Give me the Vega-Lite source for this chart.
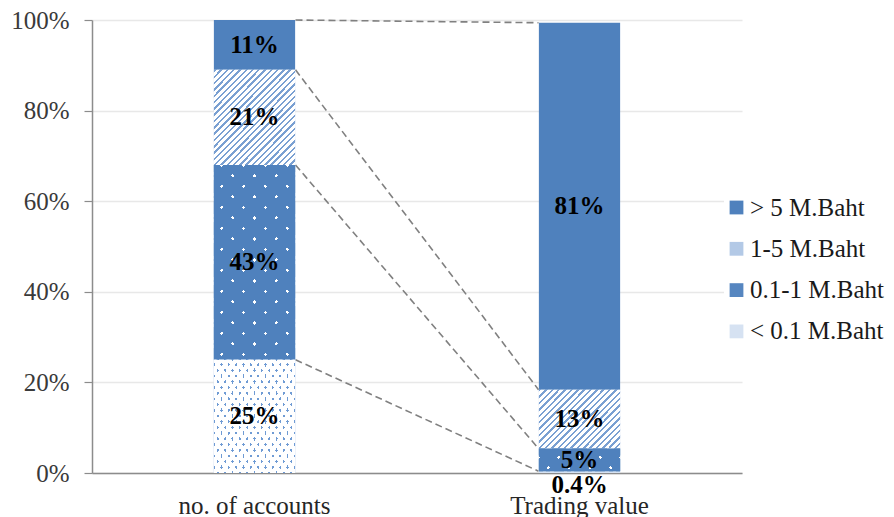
{
  "$schema": "https://vega.github.io/schema/vega-lite/v6.json",
  "width": 650,
  "height": 453,
  "autosize": {"type": "none"},
  "padding": {"left": 92, "top": 20, "right": 152, "bottom": 44},
  "config": {"view": {"stroke": null}, "font": "Times New Roman, Liberation Serif, DejaVu Serif, serif"},
  "datasets": {
    "segments": [
      {"category": "no. of accounts", "bin": "< 0.1 M.Baht", "pct": 25},
      {"category": "no. of accounts", "bin": "0.1-1 M.Baht", "pct": 43},
      {"category": "no. of accounts", "bin": "1-5 M.Baht", "pct": 21},
      {"category": "no. of accounts", "bin": "> 5 M.Baht", "pct": 11},
      {"category": "Trading value", "bin": "< 0.1 M.Baht", "pct": 0.4},
      {"category": "Trading value", "bin": "0.1-1 M.Baht", "pct": 5},
      {"category": "Trading value", "bin": "1-5 M.Baht", "pct": 13},
      {"category": "Trading value", "bin": "> 5 M.Baht", "pct": 81}
    ],
    "links": [
      {"from": 100, "to": 99.4},
      {"from": 89, "to": 18.4},
      {"from": 68, "to": 5.4},
      {"from": 25, "to": 0.4}
    ]
  },
  "layer": [
    {
      "data": {"name": "links"},
      "mark": {"type": "rule", "color": "#808080", "strokeWidth": 1.6, "strokeDash": [7, 4], "xOffset": 41, "x2Offset": -41},
      "encoding": {
        "x": {"datum": "no. of accounts", "type": "nominal",
          "scale": {"domain": ["no. of accounts", "Trading value"], "paddingInner": 0, "paddingOuter": 0},
          "axis": {"title": null, "ticks": false, "labelFontSize": 25, "labelPadding": 20, "labelColor": "#262626", "domainColor": "#8c8c8c", "domainWidth": 1.5, "labelAngle": 0, "labelFont": "Times New Roman, Liberation Serif, DejaVu Serif, serif"}},
        "x2": {"datum": "Trading value"},
        "y": {"field": "from", "type": "quantitative",
          "scale": {"domain": [0, 100]},
          "axis": {"values": [0, 20, 40, 60, 80, 100], "labelExpr": "datum.value + '%'", "title": null, "grid": true, "gridColor": "#e8e8e8", "gridWidth": 1.3, "domainColor": "#8c8c8c", "domainWidth": 1.5, "tickColor": "#8c8c8c", "tickSize": 8, "tickWidth": 1.2, "labelFontSize": 25, "labelColor": "#3a3a3a", "labelPadding": 15, "labelFont": "Times New Roman, Liberation Serif, DejaVu Serif, serif"}},
        "y2": {"field": "to"}
      }
    },
    {
      "data": {"name": "segments"},
      "transform": [
        {"calculate": "indexof(['< 0.1 M.Baht','0.1-1 M.Baht','1-5 M.Baht','> 5 M.Baht'], datum.bin)", "as": "ord"},
        {"stack": "pct", "groupby": ["category"], "sort": [{"field": "ord"}], "as": ["y0", "y1"]},
        {"calculate": "(datum.y0 + datum.y1) / 2", "as": "mid"},
        {"calculate": "datum.pct + '%'", "as": "label"}
      ],
      "encoding": {
        "x": {"field": "category", "type": "nominal"},
        "y": {"field": "y0", "type": "quantitative"},
        "y2": {"field": "y1"}
      },
      "layer": [
        {
          "mark": {"type": "bar", "width": {"band": 0.25}},
          "encoding": {
            "color": {"field": "bin", "type": "nominal",
              "scale": {"domain": ["> 5 M.Baht", "1-5 M.Baht", "0.1-1 M.Baht", "< 0.1 M.Baht"], "range": ["#4f81bd", "#b3c9e6", "#5686c0", "#d6e2f2"]},
              "legend": {"orient": "none", "legendX": 632, "legendY": 175, "title": null, "padding": 0, "fillColor": "white", "symbolType": "square", "symbolSize": 190, "symbolStrokeWidth": 0, "symbolOpacity": 1, "labelFontSize": 25, "labelFont": "Times New Roman, Liberation Serif, DejaVu Serif, serif", "labelColor": "#1a1a1a", "labelOffset": 1, "rowPadding": 15.3, "labelLimit": 200,
                "labelExpr": "(datum.label == '1-5 M.Baht' || datum.label == '< 0.1 M.Baht' ? '\u00a0' : '') + datum.label"}}
          }
        },
        {
          "transform": [{"filter": "datum.bin == '1-5 M.Baht' && datum.category == 'no. of accounts'"}],
          "mark": {"type": "bar", "width": {"band": 0.25},
            "fill": {"gradient": "linear", "x1": 0, "y1": 0, "x2": 0.921, "y2": 1.068, "stops": [
              {"offset": 0, "color": "#7aa0d2"}, {"offset": 0.0136, "color": "#7aa0d2"}, {"offset": 0.0136, "color": "#ffffff"}, {"offset": 0.0357, "color": "#ffffff"},
              {"offset": 0.0357, "color": "#7aa0d2"}, {"offset": 0.0493, "color": "#7aa0d2"}, {"offset": 0.0493, "color": "#ffffff"}, {"offset": 0.0714, "color": "#ffffff"},
              {"offset": 0.0714, "color": "#7aa0d2"}, {"offset": 0.085, "color": "#7aa0d2"}, {"offset": 0.085, "color": "#ffffff"}, {"offset": 0.1071, "color": "#ffffff"},
              {"offset": 0.1071, "color": "#7aa0d2"}, {"offset": 0.1207, "color": "#7aa0d2"}, {"offset": 0.1207, "color": "#ffffff"}, {"offset": 0.1429, "color": "#ffffff"},
              {"offset": 0.1429, "color": "#7aa0d2"}, {"offset": 0.1565, "color": "#7aa0d2"}, {"offset": 0.1565, "color": "#ffffff"}, {"offset": 0.1786, "color": "#ffffff"},
              {"offset": 0.1786, "color": "#7aa0d2"}, {"offset": 0.1922, "color": "#7aa0d2"}, {"offset": 0.1922, "color": "#ffffff"}, {"offset": 0.2143, "color": "#ffffff"},
              {"offset": 0.2143, "color": "#7aa0d2"}, {"offset": 0.2279, "color": "#7aa0d2"}, {"offset": 0.2279, "color": "#ffffff"}, {"offset": 0.25, "color": "#ffffff"},
              {"offset": 0.25, "color": "#7aa0d2"}, {"offset": 0.2636, "color": "#7aa0d2"}, {"offset": 0.2636, "color": "#ffffff"}, {"offset": 0.2857, "color": "#ffffff"},
              {"offset": 0.2857, "color": "#7aa0d2"}, {"offset": 0.2993, "color": "#7aa0d2"}, {"offset": 0.2993, "color": "#ffffff"}, {"offset": 0.3214, "color": "#ffffff"},
              {"offset": 0.3214, "color": "#7aa0d2"}, {"offset": 0.335, "color": "#7aa0d2"}, {"offset": 0.335, "color": "#ffffff"}, {"offset": 0.3571, "color": "#ffffff"},
              {"offset": 0.3571, "color": "#7aa0d2"}, {"offset": 0.3707, "color": "#7aa0d2"}, {"offset": 0.3707, "color": "#ffffff"}, {"offset": 0.3929, "color": "#ffffff"},
              {"offset": 0.3929, "color": "#7aa0d2"}, {"offset": 0.4065, "color": "#7aa0d2"}, {"offset": 0.4065, "color": "#ffffff"}, {"offset": 0.4286, "color": "#ffffff"},
              {"offset": 0.4286, "color": "#7aa0d2"}, {"offset": 0.4422, "color": "#7aa0d2"}, {"offset": 0.4422, "color": "#ffffff"}, {"offset": 0.4643, "color": "#ffffff"},
              {"offset": 0.4643, "color": "#7aa0d2"}, {"offset": 0.4779, "color": "#7aa0d2"}, {"offset": 0.4779, "color": "#ffffff"}, {"offset": 0.5, "color": "#ffffff"},
              {"offset": 0.5, "color": "#7aa0d2"}, {"offset": 0.5136, "color": "#7aa0d2"}, {"offset": 0.5136, "color": "#ffffff"}, {"offset": 0.5357, "color": "#ffffff"},
              {"offset": 0.5357, "color": "#7aa0d2"}, {"offset": 0.5493, "color": "#7aa0d2"}, {"offset": 0.5493, "color": "#ffffff"}, {"offset": 0.5714, "color": "#ffffff"},
              {"offset": 0.5714, "color": "#7aa0d2"}, {"offset": 0.585, "color": "#7aa0d2"}, {"offset": 0.585, "color": "#ffffff"}, {"offset": 0.6071, "color": "#ffffff"},
              {"offset": 0.6071, "color": "#7aa0d2"}, {"offset": 0.6207, "color": "#7aa0d2"}, {"offset": 0.6207, "color": "#ffffff"}, {"offset": 0.6429, "color": "#ffffff"},
              {"offset": 0.6429, "color": "#7aa0d2"}, {"offset": 0.6565, "color": "#7aa0d2"}, {"offset": 0.6565, "color": "#ffffff"}, {"offset": 0.6786, "color": "#ffffff"},
              {"offset": 0.6786, "color": "#7aa0d2"}, {"offset": 0.6922, "color": "#7aa0d2"}, {"offset": 0.6922, "color": "#ffffff"}, {"offset": 0.7143, "color": "#ffffff"},
              {"offset": 0.7143, "color": "#7aa0d2"}, {"offset": 0.7279, "color": "#7aa0d2"}, {"offset": 0.7279, "color": "#ffffff"}, {"offset": 0.75, "color": "#ffffff"},
              {"offset": 0.75, "color": "#7aa0d2"}, {"offset": 0.7636, "color": "#7aa0d2"}, {"offset": 0.7636, "color": "#ffffff"}, {"offset": 0.7857, "color": "#ffffff"},
              {"offset": 0.7857, "color": "#7aa0d2"}, {"offset": 0.7993, "color": "#7aa0d2"}, {"offset": 0.7993, "color": "#ffffff"}, {"offset": 0.8214, "color": "#ffffff"},
              {"offset": 0.8214, "color": "#7aa0d2"}, {"offset": 0.835, "color": "#7aa0d2"}, {"offset": 0.835, "color": "#ffffff"}, {"offset": 0.8571, "color": "#ffffff"},
              {"offset": 0.8571, "color": "#7aa0d2"}, {"offset": 0.8707, "color": "#7aa0d2"}, {"offset": 0.8707, "color": "#ffffff"}, {"offset": 0.8929, "color": "#ffffff"},
              {"offset": 0.8929, "color": "#7aa0d2"}, {"offset": 0.9065, "color": "#7aa0d2"}, {"offset": 0.9065, "color": "#ffffff"}, {"offset": 0.9286, "color": "#ffffff"},
              {"offset": 0.9286, "color": "#7aa0d2"}, {"offset": 0.9422, "color": "#7aa0d2"}, {"offset": 0.9422, "color": "#ffffff"}, {"offset": 0.9643, "color": "#ffffff"},
              {"offset": 0.9643, "color": "#7aa0d2"}, {"offset": 0.9779, "color": "#7aa0d2"}, {"offset": 0.9779, "color": "#ffffff"}, {"offset": 1, "color": "#ffffff"}
            ]}}
        },
        {
          "transform": [{"filter": "datum.bin == '1-5 M.Baht' && datum.category == 'Trading value'"}],
          "mark": {"type": "bar", "width": {"band": 0.25},
            "fill": {"gradient": "linear", "x1": 0, "y1": 0, "x2": 1.134, "y2": 0.814, "stops": [
              {"offset": 0, "color": "#7aa0d2"}, {"offset": 0.0173, "color": "#7aa0d2"}, {"offset": 0.0173, "color": "#ffffff"}, {"offset": 0.0455, "color": "#ffffff"},
              {"offset": 0.0455, "color": "#7aa0d2"}, {"offset": 0.0628, "color": "#7aa0d2"}, {"offset": 0.0628, "color": "#ffffff"}, {"offset": 0.0909, "color": "#ffffff"},
              {"offset": 0.0909, "color": "#7aa0d2"}, {"offset": 0.1082, "color": "#7aa0d2"}, {"offset": 0.1082, "color": "#ffffff"}, {"offset": 0.1364, "color": "#ffffff"},
              {"offset": 0.1364, "color": "#7aa0d2"}, {"offset": 0.1537, "color": "#7aa0d2"}, {"offset": 0.1537, "color": "#ffffff"}, {"offset": 0.1818, "color": "#ffffff"},
              {"offset": 0.1818, "color": "#7aa0d2"}, {"offset": 0.1991, "color": "#7aa0d2"}, {"offset": 0.1991, "color": "#ffffff"}, {"offset": 0.2273, "color": "#ffffff"},
              {"offset": 0.2273, "color": "#7aa0d2"}, {"offset": 0.2446, "color": "#7aa0d2"}, {"offset": 0.2446, "color": "#ffffff"}, {"offset": 0.2727, "color": "#ffffff"},
              {"offset": 0.2727, "color": "#7aa0d2"}, {"offset": 0.29, "color": "#7aa0d2"}, {"offset": 0.29, "color": "#ffffff"}, {"offset": 0.3182, "color": "#ffffff"},
              {"offset": 0.3182, "color": "#7aa0d2"}, {"offset": 0.3355, "color": "#7aa0d2"}, {"offset": 0.3355, "color": "#ffffff"}, {"offset": 0.3636, "color": "#ffffff"},
              {"offset": 0.3636, "color": "#7aa0d2"}, {"offset": 0.3809, "color": "#7aa0d2"}, {"offset": 0.3809, "color": "#ffffff"}, {"offset": 0.4091, "color": "#ffffff"},
              {"offset": 0.4091, "color": "#7aa0d2"}, {"offset": 0.4264, "color": "#7aa0d2"}, {"offset": 0.4264, "color": "#ffffff"}, {"offset": 0.4545, "color": "#ffffff"},
              {"offset": 0.4545, "color": "#7aa0d2"}, {"offset": 0.4718, "color": "#7aa0d2"}, {"offset": 0.4718, "color": "#ffffff"}, {"offset": 0.5, "color": "#ffffff"},
              {"offset": 0.5, "color": "#7aa0d2"}, {"offset": 0.5173, "color": "#7aa0d2"}, {"offset": 0.5173, "color": "#ffffff"}, {"offset": 0.5455, "color": "#ffffff"},
              {"offset": 0.5455, "color": "#7aa0d2"}, {"offset": 0.5627, "color": "#7aa0d2"}, {"offset": 0.5627, "color": "#ffffff"}, {"offset": 0.5909, "color": "#ffffff"},
              {"offset": 0.5909, "color": "#7aa0d2"}, {"offset": 0.6082, "color": "#7aa0d2"}, {"offset": 0.6082, "color": "#ffffff"}, {"offset": 0.6364, "color": "#ffffff"},
              {"offset": 0.6364, "color": "#7aa0d2"}, {"offset": 0.6537, "color": "#7aa0d2"}, {"offset": 0.6537, "color": "#ffffff"}, {"offset": 0.6818, "color": "#ffffff"},
              {"offset": 0.6818, "color": "#7aa0d2"}, {"offset": 0.6991, "color": "#7aa0d2"}, {"offset": 0.6991, "color": "#ffffff"}, {"offset": 0.7273, "color": "#ffffff"},
              {"offset": 0.7273, "color": "#7aa0d2"}, {"offset": 0.7446, "color": "#7aa0d2"}, {"offset": 0.7446, "color": "#ffffff"}, {"offset": 0.7727, "color": "#ffffff"},
              {"offset": 0.7727, "color": "#7aa0d2"}, {"offset": 0.79, "color": "#7aa0d2"}, {"offset": 0.79, "color": "#ffffff"}, {"offset": 0.8182, "color": "#ffffff"},
              {"offset": 0.8182, "color": "#7aa0d2"}, {"offset": 0.8355, "color": "#7aa0d2"}, {"offset": 0.8355, "color": "#ffffff"}, {"offset": 0.8636, "color": "#ffffff"},
              {"offset": 0.8636, "color": "#7aa0d2"}, {"offset": 0.8809, "color": "#7aa0d2"}, {"offset": 0.8809, "color": "#ffffff"}, {"offset": 0.9091, "color": "#ffffff"},
              {"offset": 0.9091, "color": "#7aa0d2"}, {"offset": 0.9264, "color": "#7aa0d2"}, {"offset": 0.9264, "color": "#ffffff"}, {"offset": 0.9545, "color": "#ffffff"},
              {"offset": 0.9545, "color": "#7aa0d2"}, {"offset": 0.9718, "color": "#7aa0d2"}, {"offset": 0.9718, "color": "#ffffff"}, {"offset": 1, "color": "#ffffff"}
            ]}}
        },
        {
          "transform": [{"filter": "datum.bin == '0.1-1 M.Baht'"}],
          "mark": {"type": "bar", "width": {"band": 0.25}, "fill": "#ffffff"}
        },
        {
          "transform": [{"filter": "datum.bin == '0.1-1 M.Baht' && datum.category == 'no. of accounts'"}],
          "mark": {"type": "bar", "width": {"band": 0.25},
            "fill": {"gradient": "linear", "x1": 0, "y1": 0, "x2": 0.4851, "y2": 1.2069, "stops": [
              {"offset": 0, "color": "#4f81bd"},
              {"offset": 0.0231, "color": "#4f81bd"}, {"offset": 0.0231, "color": "rgba(79,129,189,0)"}, {"offset": 0.0354, "color": "rgba(79,129,189,0)"}, {"offset": 0.0354, "color": "#4f81bd"},
              {"offset": 0.1, "color": "#4f81bd"}, {"offset": 0.1, "color": "rgba(79,129,189,0)"}, {"offset": 0.1123, "color": "rgba(79,129,189,0)"}, {"offset": 0.1123, "color": "#4f81bd"},
              {"offset": 0.1769, "color": "#4f81bd"}, {"offset": 0.1769, "color": "rgba(79,129,189,0)"}, {"offset": 0.1892, "color": "rgba(79,129,189,0)"}, {"offset": 0.1892, "color": "#4f81bd"},
              {"offset": 0.2538, "color": "#4f81bd"}, {"offset": 0.2538, "color": "rgba(79,129,189,0)"}, {"offset": 0.2661, "color": "rgba(79,129,189,0)"}, {"offset": 0.2661, "color": "#4f81bd"},
              {"offset": 0.3308, "color": "#4f81bd"}, {"offset": 0.3308, "color": "rgba(79,129,189,0)"}, {"offset": 0.3431, "color": "rgba(79,129,189,0)"}, {"offset": 0.3431, "color": "#4f81bd"},
              {"offset": 0.4077, "color": "#4f81bd"}, {"offset": 0.4077, "color": "rgba(79,129,189,0)"}, {"offset": 0.42, "color": "rgba(79,129,189,0)"}, {"offset": 0.42, "color": "#4f81bd"},
              {"offset": 0.4846, "color": "#4f81bd"}, {"offset": 0.4846, "color": "rgba(79,129,189,0)"}, {"offset": 0.4969, "color": "rgba(79,129,189,0)"}, {"offset": 0.4969, "color": "#4f81bd"},
              {"offset": 0.5615, "color": "#4f81bd"}, {"offset": 0.5615, "color": "rgba(79,129,189,0)"}, {"offset": 0.5738, "color": "rgba(79,129,189,0)"}, {"offset": 0.5738, "color": "#4f81bd"},
              {"offset": 0.6385, "color": "#4f81bd"}, {"offset": 0.6385, "color": "rgba(79,129,189,0)"}, {"offset": 0.6508, "color": "rgba(79,129,189,0)"}, {"offset": 0.6508, "color": "#4f81bd"},
              {"offset": 0.7154, "color": "#4f81bd"}, {"offset": 0.7154, "color": "rgba(79,129,189,0)"}, {"offset": 0.7277, "color": "rgba(79,129,189,0)"}, {"offset": 0.7277, "color": "#4f81bd"},
              {"offset": 0.7923, "color": "#4f81bd"}, {"offset": 0.7923, "color": "rgba(79,129,189,0)"}, {"offset": 0.8046, "color": "rgba(79,129,189,0)"}, {"offset": 0.8046, "color": "#4f81bd"},
              {"offset": 0.8692, "color": "#4f81bd"}, {"offset": 0.8692, "color": "rgba(79,129,189,0)"}, {"offset": 0.8815, "color": "rgba(79,129,189,0)"}, {"offset": 0.8815, "color": "#4f81bd"},
              {"offset": 0.9462, "color": "#4f81bd"}, {"offset": 0.9462, "color": "rgba(79,129,189,0)"}, {"offset": 0.9585, "color": "rgba(79,129,189,0)"}, {"offset": 0.9585, "color": "#4f81bd"},
              {"offset": 1, "color": "#4f81bd"}
            ]}}
        },
        {
          "transform": [{"filter": "datum.bin == '0.1-1 M.Baht' && datum.category == 'no. of accounts'"}],
          "mark": {"type": "bar", "width": {"band": 0.25},
            "fill": {"gradient": "linear", "x1": 1, "y1": 0, "x2": 0.5149, "y2": 1.2069, "stops": [
              {"offset": 0, "color": "#4f81bd"},
              {"offset": 0.0231, "color": "#4f81bd"}, {"offset": 0.0231, "color": "rgba(79,129,189,0)"}, {"offset": 0.0354, "color": "rgba(79,129,189,0)"}, {"offset": 0.0354, "color": "#4f81bd"},
              {"offset": 0.1, "color": "#4f81bd"}, {"offset": 0.1, "color": "rgba(79,129,189,0)"}, {"offset": 0.1123, "color": "rgba(79,129,189,0)"}, {"offset": 0.1123, "color": "#4f81bd"},
              {"offset": 0.1769, "color": "#4f81bd"}, {"offset": 0.1769, "color": "rgba(79,129,189,0)"}, {"offset": 0.1892, "color": "rgba(79,129,189,0)"}, {"offset": 0.1892, "color": "#4f81bd"},
              {"offset": 0.2538, "color": "#4f81bd"}, {"offset": 0.2538, "color": "rgba(79,129,189,0)"}, {"offset": 0.2661, "color": "rgba(79,129,189,0)"}, {"offset": 0.2661, "color": "#4f81bd"},
              {"offset": 0.3308, "color": "#4f81bd"}, {"offset": 0.3308, "color": "rgba(79,129,189,0)"}, {"offset": 0.3431, "color": "rgba(79,129,189,0)"}, {"offset": 0.3431, "color": "#4f81bd"},
              {"offset": 0.4077, "color": "#4f81bd"}, {"offset": 0.4077, "color": "rgba(79,129,189,0)"}, {"offset": 0.42, "color": "rgba(79,129,189,0)"}, {"offset": 0.42, "color": "#4f81bd"},
              {"offset": 0.4846, "color": "#4f81bd"}, {"offset": 0.4846, "color": "rgba(79,129,189,0)"}, {"offset": 0.4969, "color": "rgba(79,129,189,0)"}, {"offset": 0.4969, "color": "#4f81bd"},
              {"offset": 0.5615, "color": "#4f81bd"}, {"offset": 0.5615, "color": "rgba(79,129,189,0)"}, {"offset": 0.5738, "color": "rgba(79,129,189,0)"}, {"offset": 0.5738, "color": "#4f81bd"},
              {"offset": 0.6385, "color": "#4f81bd"}, {"offset": 0.6385, "color": "rgba(79,129,189,0)"}, {"offset": 0.6508, "color": "rgba(79,129,189,0)"}, {"offset": 0.6508, "color": "#4f81bd"},
              {"offset": 0.7154, "color": "#4f81bd"}, {"offset": 0.7154, "color": "rgba(79,129,189,0)"}, {"offset": 0.7277, "color": "rgba(79,129,189,0)"}, {"offset": 0.7277, "color": "#4f81bd"},
              {"offset": 0.7923, "color": "#4f81bd"}, {"offset": 0.7923, "color": "rgba(79,129,189,0)"}, {"offset": 0.8046, "color": "rgba(79,129,189,0)"}, {"offset": 0.8046, "color": "#4f81bd"},
              {"offset": 0.8692, "color": "#4f81bd"}, {"offset": 0.8692, "color": "rgba(79,129,189,0)"}, {"offset": 0.8815, "color": "rgba(79,129,189,0)"}, {"offset": 0.8815, "color": "#4f81bd"},
              {"offset": 0.9462, "color": "#4f81bd"}, {"offset": 0.9462, "color": "rgba(79,129,189,0)"}, {"offset": 0.9585, "color": "rgba(79,129,189,0)"}, {"offset": 0.9585, "color": "#4f81bd"},
              {"offset": 1, "color": "#4f81bd"}
            ]}}
        },
        {
          "transform": [{"filter": "datum.bin == '0.1-1 M.Baht' && datum.category == 'Trading value'"}],
          "mark": {"type": "bar", "width": {"band": 0.25},
            "fill": {"gradient": "linear", "x1": 0, "y1": 0, "x2": 1.1853, "y2": 0.3262, "stops": [
              {"offset": 0, "color": "#4f81bd"},
              {"offset": 0.06, "color": "#4f81bd"}, {"offset": 0.06, "color": "rgba(79,129,189,0)"}, {"offset": 0.092, "color": "rgba(79,129,189,0)"}, {"offset": 0.092, "color": "#4f81bd"},
              {"offset": 0.26, "color": "#4f81bd"}, {"offset": 0.26, "color": "rgba(79,129,189,0)"}, {"offset": 0.292, "color": "rgba(79,129,189,0)"}, {"offset": 0.292, "color": "#4f81bd"},
              {"offset": 0.46, "color": "#4f81bd"}, {"offset": 0.46, "color": "rgba(79,129,189,0)"}, {"offset": 0.492, "color": "rgba(79,129,189,0)"}, {"offset": 0.492, "color": "#4f81bd"},
              {"offset": 0.66, "color": "#4f81bd"}, {"offset": 0.66, "color": "rgba(79,129,189,0)"}, {"offset": 0.692, "color": "rgba(79,129,189,0)"}, {"offset": 0.692, "color": "#4f81bd"},
              {"offset": 0.86, "color": "#4f81bd"}, {"offset": 0.86, "color": "rgba(79,129,189,0)"}, {"offset": 0.892, "color": "rgba(79,129,189,0)"}, {"offset": 0.892, "color": "#4f81bd"},
              {"offset": 1, "color": "#4f81bd"}
            ]}}
        },
        {
          "transform": [{"filter": "datum.bin == '0.1-1 M.Baht' && datum.category == 'Trading value'"}],
          "mark": {"type": "bar", "width": {"band": 0.25},
            "fill": {"gradient": "linear", "x1": 1, "y1": 0, "x2": -0.1853, "y2": 0.3262, "stops": [
              {"offset": 0, "color": "#4f81bd"},
              {"offset": 0.06, "color": "#4f81bd"}, {"offset": 0.06, "color": "rgba(79,129,189,0)"}, {"offset": 0.092, "color": "rgba(79,129,189,0)"}, {"offset": 0.092, "color": "#4f81bd"},
              {"offset": 0.26, "color": "#4f81bd"}, {"offset": 0.26, "color": "rgba(79,129,189,0)"}, {"offset": 0.292, "color": "rgba(79,129,189,0)"}, {"offset": 0.292, "color": "#4f81bd"},
              {"offset": 0.46, "color": "#4f81bd"}, {"offset": 0.46, "color": "rgba(79,129,189,0)"}, {"offset": 0.492, "color": "rgba(79,129,189,0)"}, {"offset": 0.492, "color": "#4f81bd"},
              {"offset": 0.66, "color": "#4f81bd"}, {"offset": 0.66, "color": "rgba(79,129,189,0)"}, {"offset": 0.692, "color": "rgba(79,129,189,0)"}, {"offset": 0.692, "color": "#4f81bd"},
              {"offset": 0.86, "color": "#4f81bd"}, {"offset": 0.86, "color": "rgba(79,129,189,0)"}, {"offset": 0.892, "color": "rgba(79,129,189,0)"}, {"offset": 0.892, "color": "#4f81bd"},
              {"offset": 1, "color": "#4f81bd"}
            ]}}
        },
        {
          "transform": [{"filter": "datum.bin == '< 0.1 M.Baht' && datum.category == 'no. of accounts'"}],
          "mark": {"type": "bar", "width": {"band": 0.25}, "fill": "#6f9bd4"}
        },
        {
          "transform": [{"filter": "datum.bin == '< 0.1 M.Baht' && datum.category == 'no. of accounts'"}],
          "mark": {"type": "bar", "width": {"band": 0.25},
            "fill": {"gradient": "linear", "x1": 0, "y1": 0, "x2": 1.0513, "y2": 0.9431, "stops": [
              {"offset": 0, "color": "#ffffff"},
              {"offset": 0.0143, "color": "#ffffff"}, {"offset": 0.0143, "color": "rgba(255,255,255,0)"}, {"offset": 0.03, "color": "rgba(255,255,255,0)"}, {"offset": 0.03, "color": "#ffffff"},
              {"offset": 0.0619, "color": "#ffffff"}, {"offset": 0.0619, "color": "rgba(255,255,255,0)"}, {"offset": 0.0776, "color": "rgba(255,255,255,0)"}, {"offset": 0.0776, "color": "#ffffff"},
              {"offset": 0.1095, "color": "#ffffff"}, {"offset": 0.1095, "color": "rgba(255,255,255,0)"}, {"offset": 0.1252, "color": "rgba(255,255,255,0)"}, {"offset": 0.1252, "color": "#ffffff"},
              {"offset": 0.1571, "color": "#ffffff"}, {"offset": 0.1571, "color": "rgba(255,255,255,0)"}, {"offset": 0.1728, "color": "rgba(255,255,255,0)"}, {"offset": 0.1728, "color": "#ffffff"},
              {"offset": 0.2048, "color": "#ffffff"}, {"offset": 0.2048, "color": "rgba(255,255,255,0)"}, {"offset": 0.2205, "color": "rgba(255,255,255,0)"}, {"offset": 0.2205, "color": "#ffffff"},
              {"offset": 0.2524, "color": "#ffffff"}, {"offset": 0.2524, "color": "rgba(255,255,255,0)"}, {"offset": 0.2681, "color": "rgba(255,255,255,0)"}, {"offset": 0.2681, "color": "#ffffff"},
              {"offset": 0.3, "color": "#ffffff"}, {"offset": 0.3, "color": "rgba(255,255,255,0)"}, {"offset": 0.3157, "color": "rgba(255,255,255,0)"}, {"offset": 0.3157, "color": "#ffffff"},
              {"offset": 0.3476, "color": "#ffffff"}, {"offset": 0.3476, "color": "rgba(255,255,255,0)"}, {"offset": 0.3633, "color": "rgba(255,255,255,0)"}, {"offset": 0.3633, "color": "#ffffff"},
              {"offset": 0.3952, "color": "#ffffff"}, {"offset": 0.3952, "color": "rgba(255,255,255,0)"}, {"offset": 0.4109, "color": "rgba(255,255,255,0)"}, {"offset": 0.4109, "color": "#ffffff"},
              {"offset": 0.4429, "color": "#ffffff"}, {"offset": 0.4429, "color": "rgba(255,255,255,0)"}, {"offset": 0.4586, "color": "rgba(255,255,255,0)"}, {"offset": 0.4586, "color": "#ffffff"},
              {"offset": 0.4905, "color": "#ffffff"}, {"offset": 0.4905, "color": "rgba(255,255,255,0)"}, {"offset": 0.5062, "color": "rgba(255,255,255,0)"}, {"offset": 0.5062, "color": "#ffffff"},
              {"offset": 0.5381, "color": "#ffffff"}, {"offset": 0.5381, "color": "rgba(255,255,255,0)"}, {"offset": 0.5538, "color": "rgba(255,255,255,0)"}, {"offset": 0.5538, "color": "#ffffff"},
              {"offset": 0.5857, "color": "#ffffff"}, {"offset": 0.5857, "color": "rgba(255,255,255,0)"}, {"offset": 0.6014, "color": "rgba(255,255,255,0)"}, {"offset": 0.6014, "color": "#ffffff"},
              {"offset": 0.6333, "color": "#ffffff"}, {"offset": 0.6333, "color": "rgba(255,255,255,0)"}, {"offset": 0.649, "color": "rgba(255,255,255,0)"}, {"offset": 0.649, "color": "#ffffff"},
              {"offset": 0.681, "color": "#ffffff"}, {"offset": 0.681, "color": "rgba(255,255,255,0)"}, {"offset": 0.6967, "color": "rgba(255,255,255,0)"}, {"offset": 0.6967, "color": "#ffffff"},
              {"offset": 0.7286, "color": "#ffffff"}, {"offset": 0.7286, "color": "rgba(255,255,255,0)"}, {"offset": 0.7443, "color": "rgba(255,255,255,0)"}, {"offset": 0.7443, "color": "#ffffff"},
              {"offset": 0.7762, "color": "#ffffff"}, {"offset": 0.7762, "color": "rgba(255,255,255,0)"}, {"offset": 0.7919, "color": "rgba(255,255,255,0)"}, {"offset": 0.7919, "color": "#ffffff"},
              {"offset": 0.8238, "color": "#ffffff"}, {"offset": 0.8238, "color": "rgba(255,255,255,0)"}, {"offset": 0.8395, "color": "rgba(255,255,255,0)"}, {"offset": 0.8395, "color": "#ffffff"},
              {"offset": 0.8714, "color": "#ffffff"}, {"offset": 0.8714, "color": "rgba(255,255,255,0)"}, {"offset": 0.8871, "color": "rgba(255,255,255,0)"}, {"offset": 0.8871, "color": "#ffffff"},
              {"offset": 0.919, "color": "#ffffff"}, {"offset": 0.919, "color": "rgba(255,255,255,0)"}, {"offset": 0.9347, "color": "rgba(255,255,255,0)"}, {"offset": 0.9347, "color": "#ffffff"},
              {"offset": 0.9667, "color": "#ffffff"}, {"offset": 0.9667, "color": "rgba(255,255,255,0)"}, {"offset": 0.9824, "color": "rgba(255,255,255,0)"}, {"offset": 0.9824, "color": "#ffffff"},
              {"offset": 1, "color": "#ffffff"}
            ]}}
        },
        {
          "transform": [{"filter": "datum.bin == '< 0.1 M.Baht' && datum.category == 'no. of accounts'"}],
          "mark": {"type": "bar", "width": {"band": 0.25},
            "fill": {"gradient": "linear", "x1": 1, "y1": 0, "x2": -0.0513, "y2": 0.9431, "stops": [
              {"offset": 0, "color": "#ffffff"},
              {"offset": 0.0143, "color": "#ffffff"}, {"offset": 0.0143, "color": "rgba(255,255,255,0)"}, {"offset": 0.03, "color": "rgba(255,255,255,0)"}, {"offset": 0.03, "color": "#ffffff"},
              {"offset": 0.0619, "color": "#ffffff"}, {"offset": 0.0619, "color": "rgba(255,255,255,0)"}, {"offset": 0.0776, "color": "rgba(255,255,255,0)"}, {"offset": 0.0776, "color": "#ffffff"},
              {"offset": 0.1095, "color": "#ffffff"}, {"offset": 0.1095, "color": "rgba(255,255,255,0)"}, {"offset": 0.1252, "color": "rgba(255,255,255,0)"}, {"offset": 0.1252, "color": "#ffffff"},
              {"offset": 0.1571, "color": "#ffffff"}, {"offset": 0.1571, "color": "rgba(255,255,255,0)"}, {"offset": 0.1728, "color": "rgba(255,255,255,0)"}, {"offset": 0.1728, "color": "#ffffff"},
              {"offset": 0.2048, "color": "#ffffff"}, {"offset": 0.2048, "color": "rgba(255,255,255,0)"}, {"offset": 0.2205, "color": "rgba(255,255,255,0)"}, {"offset": 0.2205, "color": "#ffffff"},
              {"offset": 0.2524, "color": "#ffffff"}, {"offset": 0.2524, "color": "rgba(255,255,255,0)"}, {"offset": 0.2681, "color": "rgba(255,255,255,0)"}, {"offset": 0.2681, "color": "#ffffff"},
              {"offset": 0.3, "color": "#ffffff"}, {"offset": 0.3, "color": "rgba(255,255,255,0)"}, {"offset": 0.3157, "color": "rgba(255,255,255,0)"}, {"offset": 0.3157, "color": "#ffffff"},
              {"offset": 0.3476, "color": "#ffffff"}, {"offset": 0.3476, "color": "rgba(255,255,255,0)"}, {"offset": 0.3633, "color": "rgba(255,255,255,0)"}, {"offset": 0.3633, "color": "#ffffff"},
              {"offset": 0.3952, "color": "#ffffff"}, {"offset": 0.3952, "color": "rgba(255,255,255,0)"}, {"offset": 0.4109, "color": "rgba(255,255,255,0)"}, {"offset": 0.4109, "color": "#ffffff"},
              {"offset": 0.4429, "color": "#ffffff"}, {"offset": 0.4429, "color": "rgba(255,255,255,0)"}, {"offset": 0.4586, "color": "rgba(255,255,255,0)"}, {"offset": 0.4586, "color": "#ffffff"},
              {"offset": 0.4905, "color": "#ffffff"}, {"offset": 0.4905, "color": "rgba(255,255,255,0)"}, {"offset": 0.5062, "color": "rgba(255,255,255,0)"}, {"offset": 0.5062, "color": "#ffffff"},
              {"offset": 0.5381, "color": "#ffffff"}, {"offset": 0.5381, "color": "rgba(255,255,255,0)"}, {"offset": 0.5538, "color": "rgba(255,255,255,0)"}, {"offset": 0.5538, "color": "#ffffff"},
              {"offset": 0.5857, "color": "#ffffff"}, {"offset": 0.5857, "color": "rgba(255,255,255,0)"}, {"offset": 0.6014, "color": "rgba(255,255,255,0)"}, {"offset": 0.6014, "color": "#ffffff"},
              {"offset": 0.6333, "color": "#ffffff"}, {"offset": 0.6333, "color": "rgba(255,255,255,0)"}, {"offset": 0.649, "color": "rgba(255,255,255,0)"}, {"offset": 0.649, "color": "#ffffff"},
              {"offset": 0.681, "color": "#ffffff"}, {"offset": 0.681, "color": "rgba(255,255,255,0)"}, {"offset": 0.6967, "color": "rgba(255,255,255,0)"}, {"offset": 0.6967, "color": "#ffffff"},
              {"offset": 0.7286, "color": "#ffffff"}, {"offset": 0.7286, "color": "rgba(255,255,255,0)"}, {"offset": 0.7443, "color": "rgba(255,255,255,0)"}, {"offset": 0.7443, "color": "#ffffff"},
              {"offset": 0.7762, "color": "#ffffff"}, {"offset": 0.7762, "color": "rgba(255,255,255,0)"}, {"offset": 0.7919, "color": "rgba(255,255,255,0)"}, {"offset": 0.7919, "color": "#ffffff"},
              {"offset": 0.8238, "color": "#ffffff"}, {"offset": 0.8238, "color": "rgba(255,255,255,0)"}, {"offset": 0.8395, "color": "rgba(255,255,255,0)"}, {"offset": 0.8395, "color": "#ffffff"},
              {"offset": 0.8714, "color": "#ffffff"}, {"offset": 0.8714, "color": "rgba(255,255,255,0)"}, {"offset": 0.8871, "color": "rgba(255,255,255,0)"}, {"offset": 0.8871, "color": "#ffffff"},
              {"offset": 0.919, "color": "#ffffff"}, {"offset": 0.919, "color": "rgba(255,255,255,0)"}, {"offset": 0.9347, "color": "rgba(255,255,255,0)"}, {"offset": 0.9347, "color": "#ffffff"},
              {"offset": 0.9667, "color": "#ffffff"}, {"offset": 0.9667, "color": "rgba(255,255,255,0)"}, {"offset": 0.9824, "color": "rgba(255,255,255,0)"}, {"offset": 0.9824, "color": "#ffffff"},
              {"offset": 1, "color": "#ffffff"}
            ]}}
        },
        {
          "transform": [{"filter": "datum.pct >= 1"}],
          "mark": {"type": "text", "font": "Times New Roman, Liberation Serif, DejaVu Serif, serif", "fontSize": 25, "fontWeight": "bold", "color": "#000000", "baseline": "middle"},
          "encoding": {
            "y": {"field": "mid", "type": "quantitative"},
            "y2": null,
            "text": {"field": "label"}
          }
        },
        {
          "transform": [{"filter": "datum.pct < 1"}],
          "mark": {"type": "text", "font": "Times New Roman, Liberation Serif, DejaVu Serif, serif", "fontSize": 25, "fontWeight": "bold", "color": "#000000", "baseline": "middle", "dy": 12},
          "encoding": {
            "y": {"field": "y0", "type": "quantitative"},
            "y2": null,
            "text": {"field": "label"}
          }
        }
      ]
    }
  ]
}
